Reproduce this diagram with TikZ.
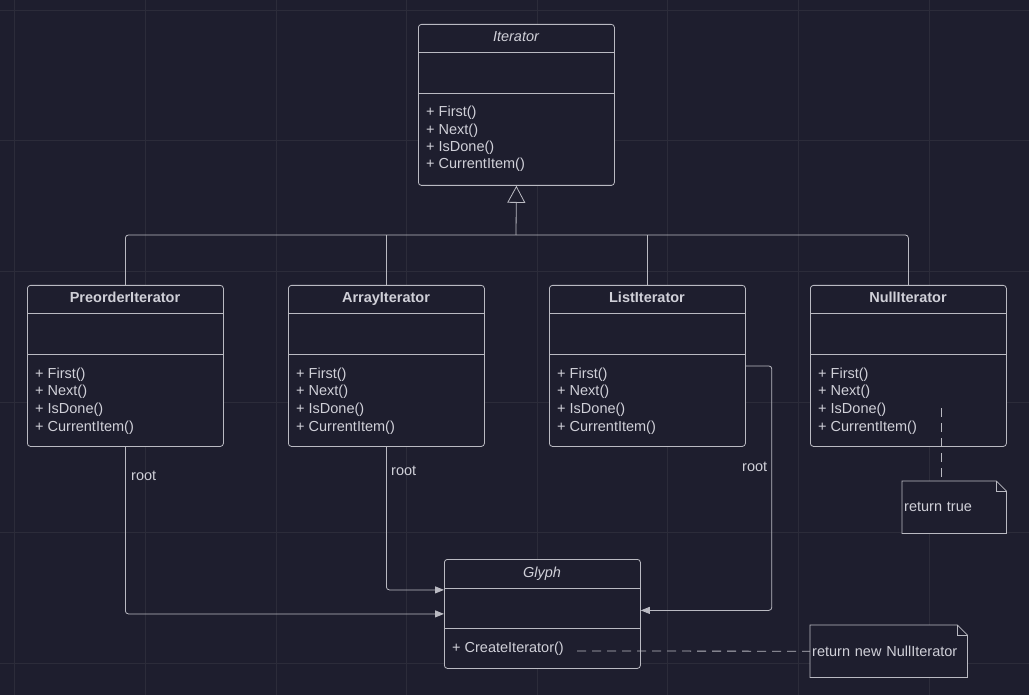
\documentclass[tikz,border=0pt]{standalone}
\usepackage{fontspec}
\setmainfont{Liberation Sans}
\usetikzlibrary{arrows.meta}

\definecolor{bg}{RGB}{30,30,46}
\definecolor{gridc}{RGB}{44,44,58}
\definecolor{linec}{RGB}{186,186,194}
\definecolor{textc}{RGB}{208,208,216}

\tikzset{
    classbox/.style={draw=linec, fill=bg, line width=0.8pt, rounded corners=3pt,
        minimum width=196pt, anchor=north west, inner sep=0pt},
    sepline/.style={draw=linec, line width=0.8pt},
    titletext/.style={text=textc, inner sep=0pt, text height=10.5pt, text depth=3pt,
        font=\fontsize{14.5}{17}\selectfont},
    methodtext/.style={text=textc, inner sep=0pt, anchor=west, text height=10.5pt, text depth=3pt,
        font=\fontsize{14.5}{17}\selectfont},
    conn/.style={draw=linec, line width=0.8pt, rounded corners=3pt},
    rootarrow/.style={conn, -{Triangle[length=9pt, width=7pt]}},
    dashconn/.style={draw=linec, line width=0.8pt, dash pattern=on 9pt off 6pt},
    notebox/.style={fill=bg, anchor=north west, inner sep=2pt, align=left, minimum height=52pt,
        text=textc, font=\fontsize{14.5}{17}\selectfont},
    gridline/.style={draw=gridc, line width=0.6pt}
}

\begin{document}
\begin{tikzpicture}[x=1pt, y=-1pt]
    \fill[bg] (0,0) rectangle (1029,695);
    \useasboundingbox (0,0) rectangle (1029,695);

    % grid
    \foreach \gx in {0, ..., 7}
        \draw[gridline] (14.6 + 130.6*\gx, 0) -- ++(0, 695);
    \foreach \gy in {0, ..., 5}
        \draw[gridline] (0, 10 + 130.6*\gy) -- ++(1029, 0);

    % Iterator
    \node[classbox, minimum height=161pt] (iter) at (418, 24) {};
    \node[titletext] (iter-title) at (516, 38) {\itshape Iterator};
    \draw[sepline] (iter.north west) ++(0, 28) -- ++(196, 0);
    \draw[sepline] (iter.north west) ++(0, 69) -- ++(196, 0);
    \foreach \m [count=\i] in {First(), Next(), IsDone(), CurrentItem()}
        \node[methodtext] (iter-m\i) at (426, 113 + 17.4*\i - 17.4) {+ \m};

    % subclasses
    \foreach \cls/\cx/\title in {pre/27/PreorderIterator, arr/288/ArrayIterator,
                                 lst/549/ListIterator, nul/810/NullIterator}{
        \node[classbox, minimum height=161pt] (\cls) at (\cx, 285) {};
        \node[titletext] (\cls-title) at (\cx + 98, 299) {\bfseries \title};
        \draw[sepline] (\cls.north west) ++(0, 28) -- ++(196, 0);
        \draw[sepline] (\cls.north west) ++(0, 69) -- ++(196, 0);
        \foreach \m [count=\i] in {First(), Next(), IsDone(), CurrentItem()}
            \node[methodtext] (\cls-m\i) at (\cx + 8, 374.5 + 17.6*\i - 17.6) {+ \m};
    }

    % Glyph
    \node[classbox, minimum height=109pt] (gly) at (444, 559) {};
    \node[titletext] (gly-title) at (542, 574) {\itshape Glyph};
    \draw[sepline] (gly.north west) ++(0, 29) -- ++(196, 0);
    \draw[sepline] (gly.north west) ++(0, 69) -- ++(196, 0);
    \node[methodtext] (gly-m1) at (452, 649) {+ CreateIterator()};

    % inheritance
    \coordinate (junc) at (516, 235);
    \draw[conn] (pre.north) -- (pre.north |- junc) -- (nul.north |- junc) -- (nul.north);
    \draw[conn] (arr.north) -- (arr.north |- junc);
    \draw[conn] (lst.north) -- (lst.north |- junc);
    \draw[draw=linec, line width=0.8pt, -{Triangle[length=17pt, width=18pt, fill=bg]}] (junc) -- (iter.south);

    % root links
    \draw[rootarrow] (pre.south) |- (gly.west);
    \draw[rootarrow] (arr.south) |- ([yshift=24pt]gly.west);
    \draw[rootarrow] (lst.east) -- ++(26, 0) |- ([yshift=3.5pt]gly.east);
    \node[methodtext] (pre-root) at (131, 477) {root};
    \node[methodtext] (arr-root) at (391, 472) {root};
    \node[methodtext] (lst-root) at (742, 468) {root};

    % notes
    \node[notebox, text width=100pt] (note-nul) at (902, 481) {return true};
    \node[notebox, text width=153pt] (note-gly) at (810, 625) {return new NullIterator};
    \foreach \n in {note-nul, note-gly}{
        \draw[sepline] (\n.north west) -- ([xshift=-10pt]\n.north east)
            -- ([yshift=-10pt]\n.north east) -- (\n.south east) -- (\n.south west) -- cycle;
        \draw[sepline] ([xshift=-10pt]\n.north east) |- ([yshift=-10pt]\n.north east);
    }

    \coordinate (nul-dash) at (941, 408);
    \coordinate (gly-dash) at (577, 651);
    \draw[dashconn] (nul-dash) -- (nul-dash |- note-nul.north);
    \draw[dashconn] (gly-dash) -- (note-gly.west);
\end{tikzpicture}
\end{document}
